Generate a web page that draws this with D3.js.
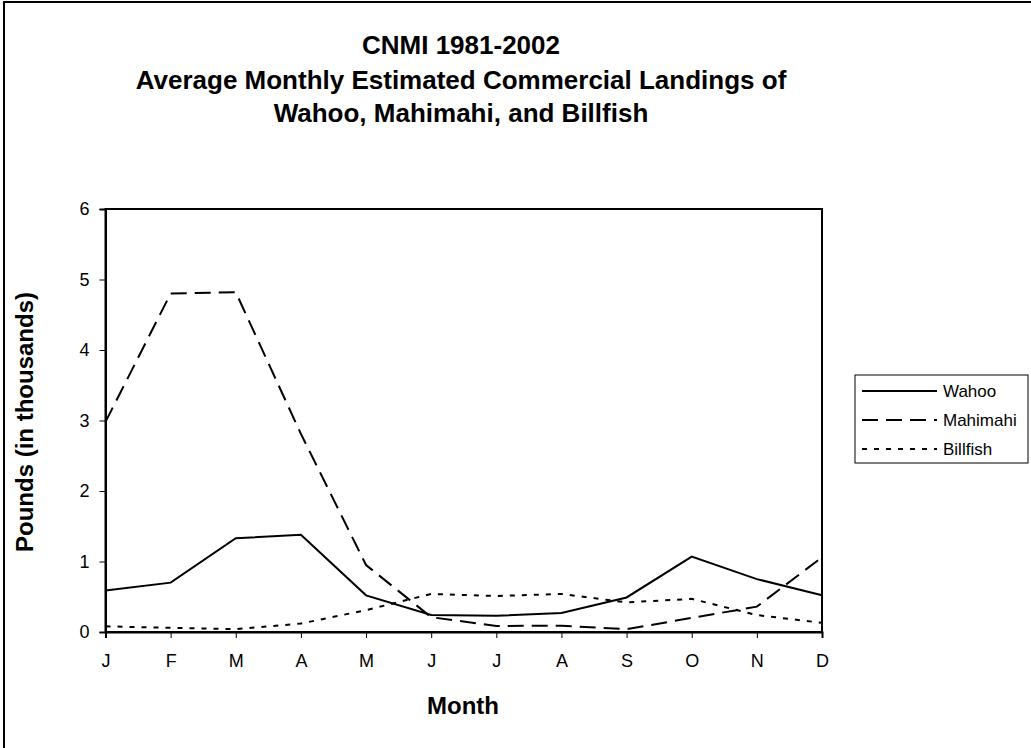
<!doctype html>
<html>
<head>
<meta charset="utf-8">
<title>CNMI 1981-2002 landings</title>
<style>
  body { margin: 0; background: #fff; }
  text { font-family: Arial, "Liberation Sans", sans-serif; }
</style>
</head>
<body>
<script src="https://d3js.org/d3.v7.min.js"></script>
<script>
// data (thousands of pounds)
var months = ["J", "F", "M", "A", "M", "J", "J", "A", "S", "O", "N", "D"];
var wahoo = [0.59, 0.70, 1.33, 1.38, 0.52, 0.24, 0.23, 0.27, 0.49, 1.07, 0.75, 0.52];
var mahimahi = [2.98, 4.80, 4.82, 2.81, 0.95, 0.21, 0.085, 0.09, 0.04, 0.20, 0.36, 1.06];
var billfish = [0.08, 0.06, 0.04, 0.12, 0.31, 0.54, 0.51, 0.54, 0.42, 0.47, 0.24, 0.13];
var seriesNames = ["Wahoo", "Mahimahi", "Billfish"];
var yTicks = [0, 1, 2, 3, 4, 5, 6];

var w = 1031, h = 748;
var svg = d3.select("body").append("svg")
    .attr("width", w)
    .attr("height", h);

// outer chart border
svg.append("rect")
    .attr("x", 4).attr("y", 2)
    .attr("width", 1100).attr("height", 800)
    .attr("fill", "none").attr("stroke", "#000").attr("stroke-width", 2);

var plotLeft = 105.5, plotRight = 822, plotTop = 209, plotBottom = 632;

var x = d3.scalePoint()
    .domain(d3.range(months.length))
    .range([plotLeft, plotRight]);

var y = d3.scaleLinear()
    .domain([0, 6])
    .range([plotBottom, plotTop]);

// title
var title = svg.append("text")
    .attr("text-anchor", "middle")
    .attr("font-weight", "bold")
    .attr("font-size", "26px");
title.append("tspan").attr("x", 461).attr("y", 54).text("CNMI 1981-2002");
title.append("tspan").attr("x", 461).attr("y", 89).text("Average Monthly Estimated Commercial Landings of");
title.append("tspan").attr("x", 461).attr("y", 122).text("Wahoo, Mahimahi, and Billfish");

// plot frame
svg.append("rect")
    .attr("x", plotLeft).attr("y", plotTop)
    .attr("width", plotRight - plotLeft).attr("height", plotBottom - plotTop)
    .attr("fill", "none").attr("stroke", "#000").attr("stroke-width", 2);

// axes
var xAxis = svg.append("g")
    .attr("transform", "translate(0," + plotBottom + ")")
    .call(d3.axisBottom(x).tickSize(6).tickPadding(16).tickFormat(function (i) { return months[i]; }));
var yAxis = svg.append("g")
    .attr("transform", "translate(" + plotLeft + ",0)")
    .call(d3.axisLeft(y).tickValues(yTicks).tickSize(6).tickPadding(10).tickFormat(d3.format("d")));

[xAxis, yAxis].forEach(function (a) {
    a.select(".domain").attr("stroke-width", 2);
    a.selectAll(".tick line").attr("stroke-width", 1);
    a.selectAll(".tick text")
        .attr("font-family", "Arial, 'Liberation Sans', sans-serif")
        .attr("font-size", "18px")
        .attr("fill", "#000");
});

// axis titles
svg.append("text")
    .attr("x", 463).attr("y", 714)
    .attr("text-anchor", "middle")
    .attr("font-weight", "bold")
    .attr("font-size", "24px")
    .text("Month");

svg.append("text")
    .attr("transform", "translate(33,422) rotate(-90)")
    .attr("text-anchor", "middle")
    .attr("font-weight", "bold")
    .attr("font-size", "24px")
    .text("Pounds (in thousands)");

// lines
var dashes = ["none", "16,8", "5,7"];
var allSeries = [wahoo, mahimahi, billfish];

var line = d3.line()
    .x(function (d, i) { return x(i); })
    .y(function (d) { return y(d); });

allSeries.forEach(function (s, k) {
    svg.append("path")
        .datum(s)
        .attr("d", line)
        .attr("fill", "none")
        .attr("stroke", "#000")
        .attr("stroke-width", 2)
        .attr("stroke-dasharray", dashes[k]);
});

// legend
var legend = svg.append("g");
legend.append("rect")
    .attr("x", 855).attr("y", 375)
    .attr("width", 173).attr("height", 88)
    .attr("fill", "#fff").attr("stroke", "#000").attr("stroke-width", 1);

seriesNames.forEach(function (name, k) {
    var ly = 391 + k * 29;
    legend.append("line")
        .attr("x1", 862).attr("x2", 937)
        .attr("y1", ly).attr("y2", ly)
        .attr("stroke", "#000")
        .attr("stroke-width", 2)
        .attr("stroke-dasharray", dashes[k]);
    legend.append("text")
        .attr("x", 943).attr("y", ly + 6)
        .attr("font-size", "17px")
        .text(name);
});
</script>
</body>
</html>
